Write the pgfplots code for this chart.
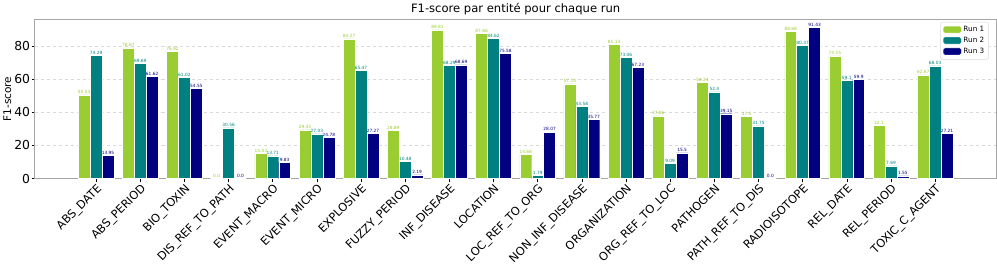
\documentclass[border=0pt]{standalone}
\usepackage{fontspec}
\setmainfont{DejaVu Sans}
\usepackage{pgfplots}
\usepackage{pgfplotstable}
\pgfplotsset{compat=1.18}
\definecolor{cA}{RGB}{154,205,50}
\definecolor{cB}{RGB}{0,128,128}
\definecolor{cC}{RGB}{0,0,128}

\pgfplotstableread{
x y lab
0 50.53 50.53
1 78.87 78.87
2 76.92 76.92
3 0 0.0
4 15.03 15.03
5 29.43 29.43
6 84.27 84.27
7 28.89 28.89
8 89.81 89.81
9 87.66 87.66
10 14.68 14.68
11 57.14 57.14
12 81.13 81.13
13 37.86 37.86
14 58.23 58.23
15 37.5 37.5
16 88.68 88.68
17 74.15 74.15
18 32.1 32.1
19 62.67 62.67
}\runA
\pgfplotstableread{
x y lab
0 74.29 74.29
1 69.69 69.69
2 61.02 61.02
3 30.56 30.56
4 13.71 13.71
5 27.03 27.03
6 65.47 65.47
7 10.48 10.48
8 68.29 68.29
9 84.62 84.62
10 1.79 1.79
11 43.58 43.58
12 73.06 73.06
13 9.09 9.09
14 52.4 52.4
15 31.75 31.75
16 80.37 80.37
17 59.1 59.1
18 7.69 7.69
19 68.03 68.03
}\runB
\pgfplotstableread{
x y lab
0 13.95 13.95
1 61.62 61.62
2 54.55 54.55
3 0 0.0
4 9.83 9.83
5 24.78 24.78
6 27.27 27.27
7 2.19 2.19
8 68.69 68.69
9 75.58 75.58
10 28.07 28.07
11 35.77 35.77
12 67.23 67.23
13 15.5 15.5
14 39.15 39.15
15 0 0.0
16 91.43 91.43
17 59.9 59.9
18 1.55 1.55
19 27.21 27.21
}\runC

\begin{document}
\begin{tikzpicture}
\begin{axis}[
  scale only axis,
  width=956pt, height=158pt,
  xmin=-1.39, xmax=20.39,
  ymin=0, ymax=96,
  xtick={0,...,19},
  xticklabels={ABS\_DATE,ABS\_PERIOD,BIO\_TOXIN,DIS\_REF\_TO\_PATH,EVENT\_MACRO,EVENT\_MICRO,EXPLOSIVE,FUZZY\_PERIOD,INF\_DISEASE,LOCATION,LOC\_REF\_TO\_ORG,NON\_INF\_DISEASE,ORGANIZATION,ORG\_REF\_TO\_LOC,PATHOGEN,PATH\_REF\_TO\_DIS,RADIOISOTOPE,REL\_DATE,REL\_PERIOD,TOXIC\_C\_AGENT},
  xticklabel style={rotate=45, anchor=north east, font=\fontsize{11.3}{11.3}\selectfont, inner sep=1pt},
  ytick={0,20,40,60,80},
  yticklabel style={font=\fontsize{12.3}{12.3}\selectfont, inner sep=1.5pt},
  /pgf/number format/assume math mode=true,
  tick align=outside,
  tick pos=left,
  major tick length=3pt,
  tick style={black, line width=0.6pt},
  axis line style={gray!70, line width=1pt},
  ymajorgrids,
  grid style={dashed, gray!30, line width=0.5pt},
  ylabel={F1-score},
  ylabel style={font=\fontsize{10.5}{10.5}\selectfont, yshift=-2pt},
  title={F1-score par entité pour chaque run},
  title style={font=\fontsize{11.5}{11.5}\selectfont, yshift=-5pt},
  legend style={at={(0.992,0.985)}, anchor=north east, font=\fontsize{7.2}{7.5}\selectfont, draw=gray!30, rounded corners=1.5pt, row sep=0pt, inner sep=2.3pt},
  legend cell align=left,
  legend image code/.code={\fill[#1] (0pt,-3.3pt) rectangle (18pt,3.7pt);},
  point meta=explicit symbolic,
  nodes near coords,
  nodes near coords style={font=\fontsize{4.3}{4.3}\selectfont, inner sep=0.8pt},
]
\addplot[ybar, bar width=0.27, bar shift=0, fill=cA, draw=white, line width=0.4pt, nodes near coords style={text=cA}] table[x expr=\thisrow{x}-0.27, y=y, meta=lab] {\runA};
\addplot[ybar, bar width=0.27, bar shift=0, fill=cB, draw=white, line width=0.4pt, nodes near coords style={text=cB}] table[x expr=\thisrow{x}, y=y, meta=lab] {\runB};
\addplot[ybar, bar width=0.27, bar shift=0, fill=cC, draw=white, line width=0.4pt, nodes near coords style={text=cC}] table[x expr=\thisrow{x}+0.27, y=y, meta=lab] {\runC};
\legend{Run 1, Run 2, Run 3}
\end{axis}
\end{tikzpicture}
\end{document}
